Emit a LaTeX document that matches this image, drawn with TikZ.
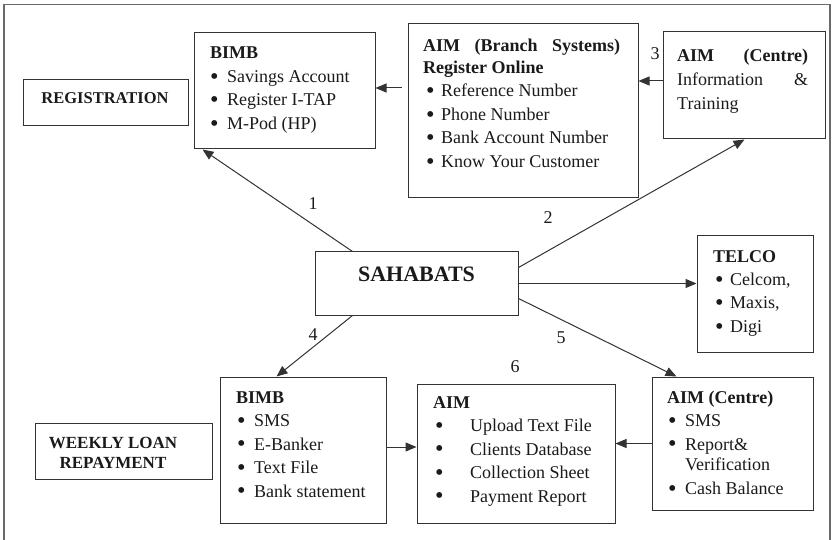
\documentclass[tikz,border=0pt]{standalone}
\usepackage{fontspec}
\usepackage{graphicx}
\setmainfont{Liberation Serif}
\usetikzlibrary{arrows.meta}
\definecolor{ln}{HTML}{333333}
\definecolor{fr}{HTML}{6A6A6A}
\definecolor{tx}{HTML}{1A1A1A}
\newcommand\bul[2]{\makebox[#1][l]{\raisebox{-1.8pt}{\scalebox{1.35}{\textbullet}}}#2}
\newcommand\tb[1]{\begin{tabular}[t]{@{}l@{}}#1\end{tabular}}
\begin{document}
\begin{tikzpicture}[x=1pt,y=-1pt,
  box/.style={draw=ln, line width=1pt, rectangle, inner sep=0pt},
  txt/.style={anchor=base west, inner sep=0pt, text=tx, font=\fontsize{18}{23.5}\selectfont},
  arr/.style={draw=ln, line width=1pt, -{Triangle[length=11pt,width=9pt]}},
  num/.style={inner sep=0pt, text=tx, font=\fontsize{18}{20}\selectfont}]
\useasboundingbox (0,0) rectangle (833,540);
% frame
\draw[fr, line width=1.5pt] (4,550) -- (4,4.5) -- (830,4.5) -- (830,550);

% boxes
\node[box, minimum width=165, minimum height=46]  (reg)   at (105.5,103) {};
\node[box, minimum width=181, minimum height=116] (bimb1) at (284.5,91) {};
\node[box, minimum width=230, minimum height=174] (aimb)  at (523,111) {};
\node[box, minimum width=162, minimum height=107] (aimc1) at (744,85.5) {};
\node[box, minimum width=203, minimum height=63]  (sah)   at (416.5,283.5) {};
\node[box, minimum width=116, minimum height=116] (telco) at (755,294) {};
\node[box, minimum width=177, minimum height=56]  (wlr)   at (123.5,451) {};
\node[box, minimum width=166, minimum height=146] (bimb2) at (303,450) {};
\node[box, minimum width=198, minimum height=139] (aim)   at (516,453.5) {};
\node[box, minimum width=161, minimum height=133] (aimc2) at (732.5,443.5) {};

% texts
\node[inner sep=0pt, anchor=base, text=tx, font=\fontsize{16.5}{20}\selectfont\bfseries] (regt) at (105,104) {REGISTRATION};
\node[inner sep=0pt, anchor=base, text=tx, font=\fontsize{17}{20}\selectfont\bfseries] (wlrt) at (113,448) {\tb{\makebox[0pt]{WEEKLY LOAN}\\\makebox[0pt]{REPAYMENT}}};
\node[inner sep=0pt, anchor=base, text=tx, font=\fontsize{22}{24}\selectfont\bfseries] (saht) at (416.5,282) {SAHABATS};

\node[txt] (bimb1t) at (210,59) {\tb{\textbf{BIMB}\\ \bul{17pt}{Savings Account}\\ \bul{17pt}{Register I-TAP}\\ \bul{17pt}{M-Pod (HP)}}};
\node[txt] (aimbt) at (423,52) {\tb{\textbf{\makebox[197pt][s]{AIM (Branch Systems)}}\\[-2pt] \textbf{Register Online}\\ \hspace{3pt}\bul{15pt}{Reference Number}\\ \hspace{3pt}\bul{15pt}{Phone Number}\\ \hspace{3pt}\bul{15pt}{Bank Account Number}\\ \hspace{3pt}\bul{15pt}{Know Your Customer}}};
\node[txt] (aimc1t) at (677,62) {\tb{\textbf{\makebox[131pt][s]{AIM (Centre)}}\\ \makebox[131pt][s]{Information \&}\\[1pt] Training}};
\node[txt] (telcot) at (713,262) {\tb{\textbf{TELCO}\\ \hspace{2pt}\bul{15pt}{Celcom,}\\ \hspace{2pt}\bul{15pt}{Maxis,}\\ \hspace{2pt}\bul{15pt}{Digi}}};
\node[txt] (bimb2t) at (236,403) {\tb{\textbf{BIMB}\\ \hspace{1pt}\bul{17pt}{SMS}\\ \hspace{1pt}\bul{17pt}{E-Banker}\\ \hspace{1pt}\bul{17pt}{Text File}\\ \hspace{1pt}\bul{17pt}{Bank statement}}};
\node[txt] (aimt) at (433,408) {\tb{\textbf{AIM}\\ \hspace{2pt}\bul{35pt}{Upload Text File}\\ \hspace{2pt}\bul{35pt}{Clients Database}\\ \hspace{2pt}\bul{35pt}{Collection Sheet}\\ \hspace{2pt}\bul{35pt}{Payment Report}}};
\node[txt] (aimc2t) at (667,403) {\tb{\textbf{AIM (Centre)}\\ \hspace{1pt}\bul{17pt}{SMS}\\ \hspace{1pt}\bul{17pt}{Report\&}\\[-3.5pt] \hspace{18pt}Verification\\[1pt] \hspace{1pt}\bul{17pt}{Cash Balance}}};

% numbers
\node[num] (n1) at (313,204) {1};
\node[num] (n2) at (548,218) {2};
\node[num] (n3) at (655,54) {3};
\node[num] (n4) at (313,335) {4};
\node[num] (n5) at (561,338) {5};
\node[num] (n6) at (515,367) {6};

% connectors
\draw[arr] ([xshift=38pt]sah.north west) -- ([xshift=9pt]bimb1.south west);
\draw[arr] ([yshift=-16pt]sah.north east) -- ([xshift=82pt]aimc1.south west);
\coordinate (c3) at ([yshift=4.5pt]aimc1.west);
\draw[arr] (c3) -- (c3 -| aimb.east);
\coordinate (c2) at ([yshift=3pt]bimb1.east);
\coordinate (c2s) at ([xshift=-6pt]aimb.west);
\draw[arr] (c2s |- c2) -- (c2);
\draw[arr] (sah.east) -- (sah.east -| telco.west);
\draw[arr] ([yshift=17pt]sah.south east) -- ([xshift=25pt]aimc2.north west);
\draw[arr] ([xshift=38pt]sah.south west) -- ([xshift=57pt]bimb2.north west);
\coordinate (c6) at ([yshift=3pt]bimb2.east);
\draw[arr] (c6) -- (c6 -| aim.west);
\draw[arr] (aimc2.west) -- (aimc2.west -| aim.east);
\end{tikzpicture}
\end{document}
